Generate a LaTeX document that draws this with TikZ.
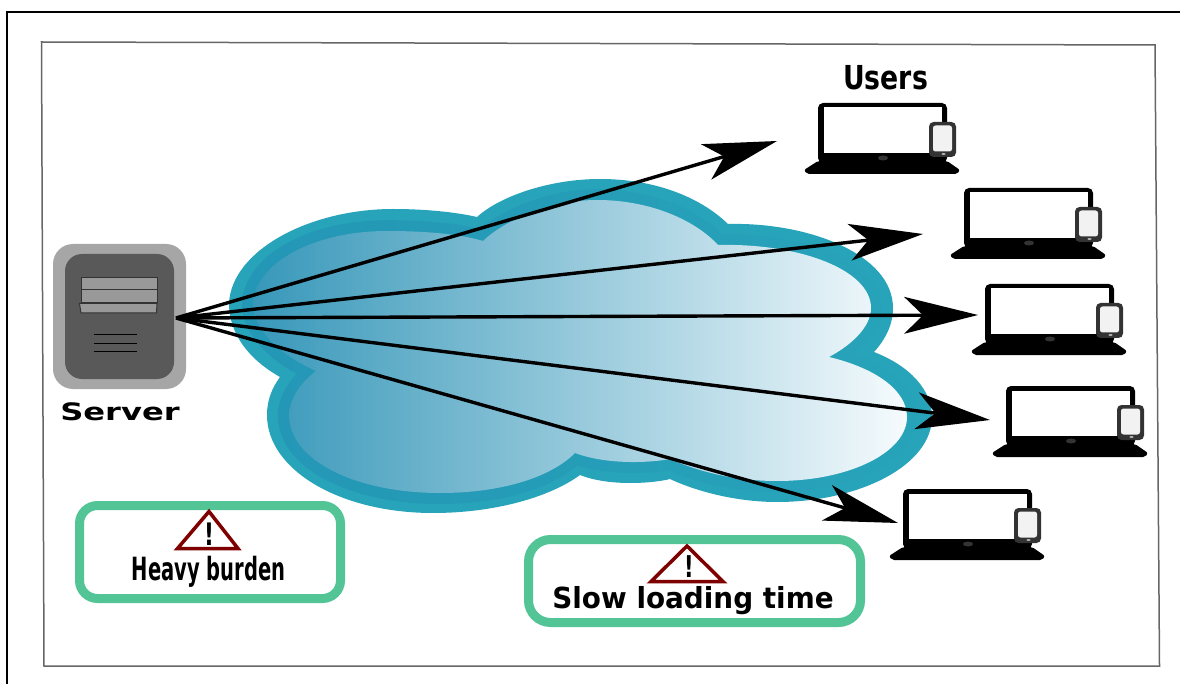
\documentclass[tikz,border=0pt]{standalone}
\usepackage{fontspec}
\setmainfont{DejaVu Sans}
\usetikzlibrary{arrows.meta}
\usetikzlibrary{calc}
\usetikzlibrary{fadings}

\definecolor{cloudout}{HTML}{28A4BA}
\definecolor{cloudband}{HTML}{2497B6}
\definecolor{cloudleft}{HTML}{3898BA}
\definecolor{cloudmid}{HTML}{8CC4D8}
\definecolor{cloudright}{HTML}{F6FBFD}
\definecolor{boxgreen}{HTML}{52C496}
\definecolor{warnred}{HTML}{7F0000}

\newcommand{\cloudouter}{(229,303) .. controls (232,250) and (310,209) .. (393,209) .. controls (425,209) and (455,212) .. (477,217) .. controls (500,196) and (550,179) .. (600,179) .. controls (655,179) and (700,197) .. (728,224) .. controls (810,222) and (893,255) .. (893,308) .. controls (893,325) and (885,340) .. (874,352) .. controls (910,366) and (932,390) .. (932,417) .. controls (932,465) and (860,502) .. (777,502) .. controls (740,502) and (700,493) .. (670,479) .. controls (655,483) and (610,487) .. (580,475) .. controls (550,497) and (495,513) .. (433,513) .. controls (340,513) and (267,470) .. (267,415) .. controls (267,400) and (272,388) .. (280,377) .. controls (250,360) and (229,335) .. (229,303) -- cycle}
\newcommand{\cloudinner}{(253,303) .. controls (256,262) and (315,231) .. (387,231) .. controls (425,231) and (460,234) .. (483,241) .. controls (505,220) and (550,200) .. (597,200) .. controls (650,200) and (695,220) .. (718,245) .. controls (800,243) and (871,270) .. (871,308) .. controls (871,325) and (855,343) .. (829,357) .. controls (875,368) and (907,390) .. (907,417) .. controls (907,452) and (850,481) .. (777,481) .. controls (735,481) and (700,472) .. (670,459) .. controls (655,462) and (610,466) .. (575,453) .. controls (550,478) and (500,493) .. (440,493) .. controls (355,493) and (289,460) .. (289,415) .. controls (289,400) and (300,383) .. (316,371) .. controls (280,355) and (253,330) .. (253,303) -- cycle}

\tikzset{
  flowarrow/.style={line width=3.4pt, -{Stealth[length=74pt,width=37pt,inset=19pt,line width=0pt]}},
  warnbox/.style={draw=boxgreen, line width=9pt, rounded corners=18pt, fill=white, inner sep=0pt},
  warnline/.style={draw=warnred, line width=3.5pt, miter limit=10},
  boldtext/.style={font=\fontsize{#1}{#1}\selectfont\bfseries, inner sep=0pt, text=black},
  laptop/.pic={
    \fill[black, rounded corners=5pt] (0,0) rectangle (129,60);
    \fill[white] (5.5,4.5) rectangle (124,50);
    \fill[black, rounded corners=2pt] (0,58) -- (-14,67) -- (-11,71) -- (139,71) -- (142,67) -- (129,58) -- cycle;
    \fill[black!80] (65,55) ellipse [x radius=5pt, y radius=2.5pt];
    \fill[black!80, rounded corners=4.5pt] (111,19) rectangle (138,54);
    \fill[black!5, rounded corners=2.5pt] (115,22.5) rectangle (134,48.5);
    \fill[black!30] (125.5,51) ellipse [x radius=2pt, y radius=1pt];
  }
}

\begin{document}
\begin{tikzpicture}[x=1pt, y=-1pt]
\useasboundingbox (0,0) rectangle (1180,684);

% frames
\draw[black, line width=2pt] (6.5,684) -- (6.5,12.5) -- (1180,12.5);
\draw[black!60, line width=1.5pt] (41.5,42) -- (1155,45) -- (1159.5,666) -- (44,666) -- cycle;

% cloud
\fill[cloudout] \cloudouter;
\draw[cloudband, line width=22pt, path fading=east] \cloudinner;
\shade[left color=cloudleft, middle color=cloudmid, right color=cloudright] \cloudinner;

% server
\node[fill=black!35, rounded corners=20pt, minimum width=133pt, minimum height=145pt, inner sep=0pt] (server) at (119.5,316.5) {};
\node[fill=black!65, rounded corners=17pt, minimum width=109pt, minimum height=125pt, inner sep=0pt] (serverface) at (119.5,316.5) {};
\draw[fill=black!40, draw=black!80, line width=1pt] (81,278) rectangle (157,290);
\draw[fill=black!40, draw=black!80, line width=1pt] (81,290) rectangle (157,303);
\draw[fill=black!40, draw=black!80, line width=1pt] (79.5,303.5) -- (157,303.5) -- (156.5,313) -- (81,313) -- cycle;
\foreach \y in {335,344,352}
  \draw[black, line width=1pt] (94,\y) -- (137,\y);
\node[boldtext=24, xscale=1.34] (serverlabel) at (120,412) {Server};

% users
\node[boldtext=33, xscale=.81] (userslabel) at (885.5,78) {Users};
\foreach \x/\y in {818/103, 964/188, 985/284, 1006/386, 903/489}
  \pic at (\x,\y) {laptop};

%%%Outgoing arrows
\coordinate (hub) at (176,318);
\coordinate (tipa) at (777,141);
\coordinate (tipb) at (923,234);
\coordinate (tipc) at (978,315);
\coordinate (tipd) at (990,420);
\coordinate (tipe) at (898,523);
\foreach \t in {tipa,tipb,tipc,tipd,tipe}
  \draw[flowarrow] (hub) -- (\t);

% warnings
\node[warnbox, minimum width=261pt, minimum height=93pt] (burdenbox) at (210,552) {};
\draw[warnline] (209,511.5) -- (177.5,548.5) -- (238,548.5) -- cycle;
\node[boldtext=31, xscale=.7] (burdenmark) at (209,534.5) {!};
\node[boldtext=32, xscale=.61] (burdenlabel) at (208.5,571.5) {Heavy burden};

\node[warnbox, rounded corners=22pt, minimum width=332pt, minimum height=83pt] (slowbox) at (694.5,581) {};
\draw[warnline] (687,546) -- (651,581.5) -- (723,581.5) -- cycle;
\node[boldtext=30, xscale=.7] (slowmark) at (689,567) {!};
\node[boldtext=29, xscale=.96] (slowlabel) at (693,600.5) {Slow loading time};

\end{tikzpicture}
\end{document}
